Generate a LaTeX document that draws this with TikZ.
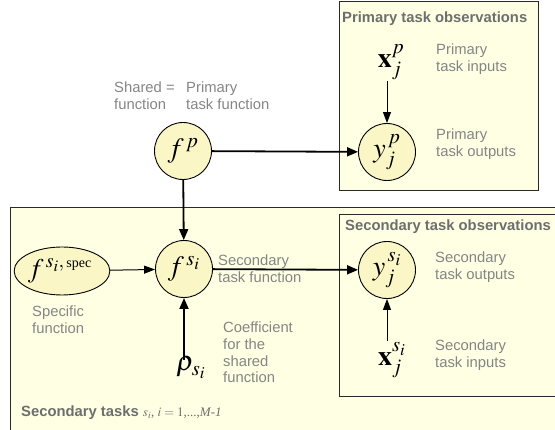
\documentclass[tikz,border=0pt]{standalone}
\usepackage{mathptmx}
\usepackage[no-math]{fontspec}
\setmainfont{Liberation Sans}
\newfontfamily\serifface{Liberation Serif}
\usetikzlibrary{arrows.meta,shapes.geometric}

\definecolor{boxfill}{HTML}{FFFFE4}
\definecolor{nodefill}{HTML}{FAF6C6}
\definecolor{labelgray}{HTML}{858585}
\definecolor{headgray}{HTML}{6E6E6E}
\definecolor{edgegray}{HTML}{2A2A2A}

\newcommand\lines[1]{\begin{tabular}[t]{@{}l@{}}#1\end{tabular}}

\tikzset{
  plate/.style={draw=edgegray, fill=boxfill, line width=1pt},
  var/.style={circle, draw=black, fill=nodefill, minimum size=57pt,
    inner sep=0pt, line width=0.9pt, font=\fontsize{28}{28}\selectfont},
  obsvar/.style={inner sep=1pt, font=\fontsize{28}{28}\selectfont},
  lbl/.style={anchor=base west, inner sep=0pt, text=labelgray,
    font=\fontsize{14.8}{16.6}\selectfont},
  head/.style={anchor=base west, inner sep=0pt, text=headgray,
    font=\fontsize{14.8}{16.6}\selectfont\bfseries},
  thick link/.style={line width=1.8pt, -{Triangle[length=11pt,width=9pt]}},
  thin link/.style={line width=1pt, -{Triangle[length=11pt,width=8pt]}},
}

\begin{document}
\begin{tikzpicture}[x=1pt, y=-1pt]
\useasboundingbox (0,0) rectangle (555,430);

% plates
\draw[plate] (10,208) rectangle (570,445);
\draw[plate] (339,215) rectangle (565,397);
\draw[plate] (339,2) rectangle (538,191);

% variables
\node[var] (fp) at (183,151) {$f^{\,p}$};
\node[var] (yp) at (387,152) {$y_{j}^{\,p}$};
\node[obsvar] (xp) at (391,62) {$\mathbf{x}_{j}^{p}$};
\node[var] (fsi) at (184,269) {$f^{\,s_{i}}$};
\node[ellipse, draw=black, fill=nodefill, minimum width=86pt, minimum height=48pt,
  inner sep=0pt, line width=0.9pt, font=\fontsize{27}{27}\selectfont]
  (fspec) at (62,271)
  {$f^{\,s_{i},\,\mbox{\fontsize{14}{14}\selectfont\serifface spec}}$\hspace*{4pt}};
\node[var] (ysi) at (387,270) {$y_{j}^{\,s_{i}}$};
\node[obsvar] (xsi) at (392,360) {$\mathbf{x}_{j}^{s_{i}}$};
\node[obsvar, inner sep=0pt] (rho) at (191,368) {$\rho_{s_{i}}$};

% connectors
\draw[thick link] (fp) -- (yp);
\draw[thick link] (fp) -- (fsi);
\draw[thick link] (fsi) -- (ysi);
\draw[thin link] (fspec) -- (fsi);
\draw[thick link] ([yshift=-3pt]fsi |- rho.north) -- (fsi);
\draw[thin link] (yp |- xp.south) -- (yp);
\draw[thin link] (ysi |- xsi.north) -- (ysi);

% texts
\node[lbl] (shared) at (114,93) {\lines{Shared\\function}};
\node[lbl] (equals) at (166,93) {=};
\node[lbl] (primfn) at (186,93) {\lines{Primary\\task function}};
\node[head] (primobs) at (342,23) {Primary task observations};
\node[lbl] (primin) at (436,55) {\lines{Primary\\task inputs}};
\node[lbl] (primout) at (436,140) {\lines{Primary\\task outputs}};
\node[head] (secobs) at (345,231) {Secondary task observations};
\node[lbl] (secout) at (435,263) {\lines{Secondary\\task outputs}};
\node[lbl] (secin) at (435,351) {\lines{Secondary\\task inputs}};
\node[lbl] (secfn) at (218,266) {\lines{Secondary\\task function}};
\node[lbl] (coef) at (223,333) {\lines{Coefficient\\for the\\shared\\function}};
\node[lbl] (specfn) at (32,317) {\lines{Specific\\function}};
\node[head] (sectasks) at (21,417) {Secondary tasks
  {\mdseries\fontsize{13}{13}\selectfont\serifface $s_{i}$, $i = 1$,...,\textit{M-1}}};
\end{tikzpicture}
\end{document}
